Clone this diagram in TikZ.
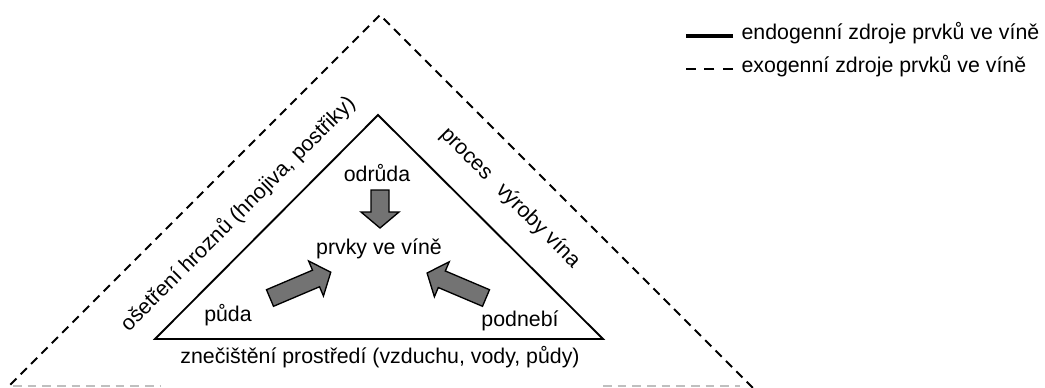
\documentclass[tikz,border=0pt]{standalone}
\usepackage{fontspec}
\setmainfont{Liberation Sans}
\usetikzlibrary{calc}

\tikzset{
  lbl/.style={inner sep=1pt, font=\fontsize{16}{19}\selectfont},
  exo/.style={line width=1.5pt, dash pattern=on 6.5pt off 4.5pt},
  endo/.style={line width=1.4pt, line join=miter},
  fatarrow/.style={draw=black, line width=1pt, fill=black!55, line join=miter},
}

% block arrow: tail point, angle, length
\newcommand{\blockarrow}[3]{%
  \draw [fatarrow, shift={(#1)}, rotate=#2]
    (0,-9) -- ({#3-16},-9) -- ({#3-16},-19) -- (#3,0) -- ({#3-16},19) -- ({#3-16},9) -- (0,9) -- cycle;}

\begin{document}
\begin{tikzpicture}[x=0.75pt, y=-0.75pt]

    \useasboundingbox (0,0) rectangle (1045,387);
    \clip (0,0) rectangle (1045,387);

    \coordinate (outerTop) at (380,15);
    \coordinate (outerLeft) at (0,395);
    \coordinate (outerRight) at (760,395);
    \draw [exo] (outerLeft) -- (outerTop) -- (outerRight);
    \draw [exo, line width=1pt, draw=black!25] (13,386) -- (160,386) (603,386) -- (740,386);

    \coordinate (innerTop) at (378,115);
    \coordinate (innerLeft) at (155,339);
    \coordinate (innerRight) at (603,339);
    \draw [endo] (innerTop) -- (innerLeft) -- (innerRight) -- cycle;

    \node [lbl] (odruda) at (377,173) {odrůda};
    \node [lbl] (prvky) at (379,249) {prvky ve víně};
    \node [lbl] (puda) at (228,315) {půda};
    \node [lbl] (podnebi) at (520,321) {podnebí};
    \node [lbl] (znecisteni) at (380,357) {znečištění prostředí (vzduchu, vody, půdy)};

    \node [lbl, rotate=45] (osetreni) at (238,214) {ošetření hroznů (hnojiva, postřiky)};
    \node [lbl, rotate=-45] (proces) at (510,198) {proces\hspace{0.7em}výroby vína};

    \coordinate (odrudaTail) at (380,190);
    \coordinate (pudaTail) at (270,298);
    \coordinate (podnebiTail) at (486,298);
    \blockarrow{odrudaTail}{-90}{38}
    \blockarrow{pudaTail}{23}{66}
    \blockarrow{podnebiTail}{157}{64}

    \node [lbl, anchor=mid west] (endoKey) at (740,36) {endogenní zdroje prvků ve víně};
    \node [lbl, anchor=mid west] (exoKey) at (740,69) {exogenní zdroje prvků ve víně};
    \draw [line width=2.8pt] ($(endoKey.mid west)+(-7,0)$) -- ++(-47,0);
    \draw [line width=2pt, dash pattern=on 7.5pt off 6.4pt] ($(exoKey.mid west)+(-7,0)$) -- ++(-47,0);

\end{tikzpicture}
\end{document}
